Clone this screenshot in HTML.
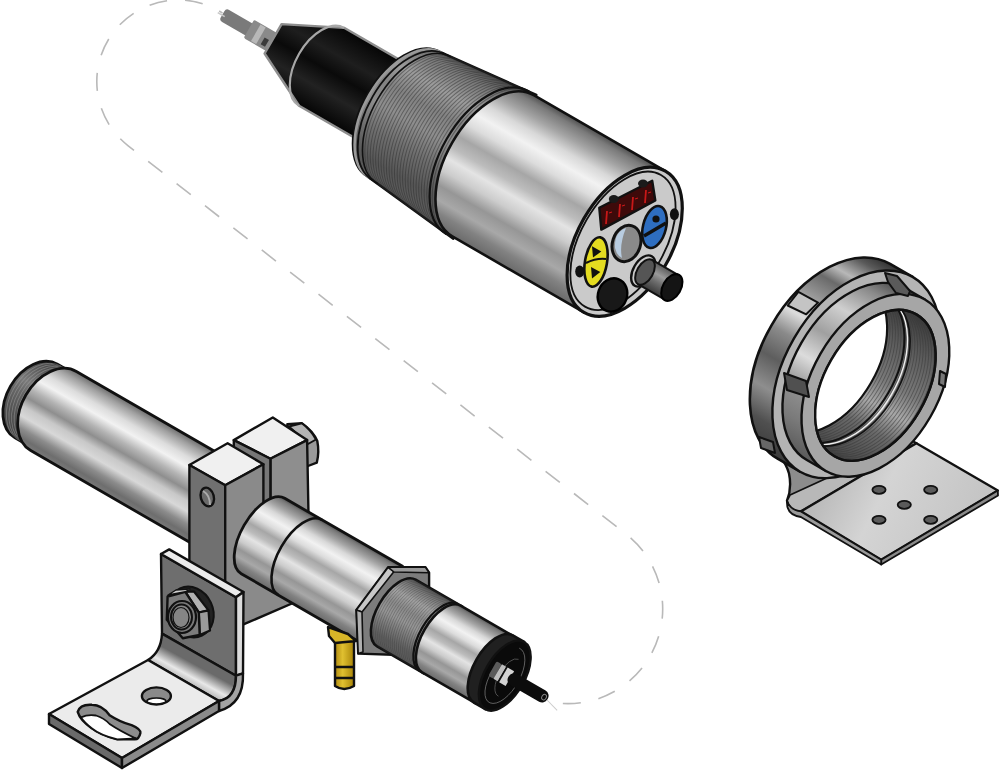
<!DOCTYPE html><html><head><meta charset="utf-8"><style>html,body{margin:0;padding:0;background:#fff;width:1000px;height:770px;overflow:hidden;font-family:"Liberation Sans",sans-serif;}svg{display:block;}</style></head><body>
<svg width="1000" height="770" viewBox="0 0 1000 770">
<defs>
<linearGradient id="silT" gradientUnits="userSpaceOnUse" x1="0" y1="-81.5" x2="0" y2="81.5"><stop offset="0" stop-color="#505050"/><stop offset="0.04" stop-color="#7a7a7a"/><stop offset="0.12" stop-color="#a4a4a4"/><stop offset="0.2" stop-color="#d8d8d8"/><stop offset="0.28" stop-color="#f2f2f2"/><stop offset="0.36" stop-color="#dcdcdc"/><stop offset="0.45" stop-color="#a6a6a6"/><stop offset="0.53" stop-color="#bcbcbc"/><stop offset="0.6" stop-color="#e4e4e4"/><stop offset="0.68" stop-color="#cccccc"/><stop offset="0.77" stop-color="#969696"/><stop offset="0.85" stop-color="#a8a8a8"/><stop offset="0.92" stop-color="#828282"/><stop offset="1" stop-color="#6a6a6a"/></linearGradient>
<linearGradient id="thrT" gradientUnits="userSpaceOnUse" x1="0" y1="-80" x2="0" y2="80"><stop offset="0" stop-color="#4e4e4e"/><stop offset="0.1" stop-color="#767676"/><stop offset="0.25" stop-color="#9c9c9c"/><stop offset="0.38" stop-color="#828282"/><stop offset="0.52" stop-color="#8e8e8e"/><stop offset="0.68" stop-color="#6e6e6e"/><stop offset="0.85" stop-color="#565656"/><stop offset="1" stop-color="#5e5e5e"/></linearGradient>
<linearGradient id="blkT" gradientUnits="userSpaceOnUse" x1="0" y1="-45" x2="0" y2="45"><stop offset="0" stop-color="#060606"/><stop offset="0.3" stop-color="#1e1e1e"/><stop offset="0.5" stop-color="#0a0a0a"/><stop offset="0.72" stop-color="#222"/><stop offset="1" stop-color="#050505"/></linearGradient>
<linearGradient id="silL" gradientUnits="userSpaceOnUse" x1="0" y1="-46" x2="0" y2="46"><stop offset="0" stop-color="#6a6a6a"/><stop offset="0.08" stop-color="#a0a0a0"/><stop offset="0.2" stop-color="#dcdcdc"/><stop offset="0.3" stop-color="#f2f2f2"/><stop offset="0.42" stop-color="#b4b4b4"/><stop offset="0.52" stop-color="#8e8e8e"/><stop offset="0.62" stop-color="#c8c8c8"/><stop offset="0.72" stop-color="#d8d8d8"/><stop offset="0.84" stop-color="#8c8c8c"/><stop offset="0.93" stop-color="#6e6e6e"/><stop offset="1" stop-color="#7a7a7a"/></linearGradient>
<linearGradient id="silB2" gradientUnits="userSpaceOnUse" x1="0" y1="-43.5" x2="0" y2="43.5"><stop offset="0" stop-color="#505050"/><stop offset="0.04" stop-color="#7a7a7a"/><stop offset="0.12" stop-color="#a4a4a4"/><stop offset="0.2" stop-color="#d8d8d8"/><stop offset="0.28" stop-color="#f2f2f2"/><stop offset="0.36" stop-color="#dcdcdc"/><stop offset="0.45" stop-color="#a6a6a6"/><stop offset="0.53" stop-color="#bcbcbc"/><stop offset="0.6" stop-color="#e4e4e4"/><stop offset="0.68" stop-color="#cccccc"/><stop offset="0.77" stop-color="#969696"/><stop offset="0.85" stop-color="#a8a8a8"/><stop offset="0.92" stop-color="#828282"/><stop offset="1" stop-color="#6a6a6a"/></linearGradient>
<linearGradient id="silB3" gradientUnits="userSpaceOnUse" x1="0" y1="-38.5" x2="0" y2="38.5"><stop offset="0" stop-color="#505050"/><stop offset="0.04" stop-color="#7a7a7a"/><stop offset="0.12" stop-color="#a4a4a4"/><stop offset="0.2" stop-color="#d8d8d8"/><stop offset="0.28" stop-color="#f2f2f2"/><stop offset="0.36" stop-color="#dcdcdc"/><stop offset="0.45" stop-color="#a6a6a6"/><stop offset="0.53" stop-color="#bcbcbc"/><stop offset="0.6" stop-color="#e4e4e4"/><stop offset="0.68" stop-color="#cccccc"/><stop offset="0.77" stop-color="#969696"/><stop offset="0.85" stop-color="#a8a8a8"/><stop offset="0.92" stop-color="#828282"/><stop offset="1" stop-color="#6a6a6a"/></linearGradient>
<linearGradient id="thrB" gradientUnits="userSpaceOnUse" x1="0" y1="-38.5" x2="0" y2="38.5"><stop offset="0" stop-color="#555"/><stop offset="0.1" stop-color="#7a7a7a"/><stop offset="0.25" stop-color="#a0a0a0"/><stop offset="0.4" stop-color="#8a8a8a"/><stop offset="0.55" stop-color="#969696"/><stop offset="0.7" stop-color="#7a7a7a"/><stop offset="0.85" stop-color="#606060"/><stop offset="1" stop-color="#5a5a5a"/></linearGradient>
<linearGradient id="thrL" gradientUnits="userSpaceOnUse" x1="0" y1="-42" x2="0" y2="42"><stop offset="0" stop-color="#3a3a3a"/><stop offset="0.15" stop-color="#5a5a5a"/><stop offset="0.35" stop-color="#7a7a7a"/><stop offset="0.5" stop-color="#666"/><stop offset="0.7" stop-color="#555"/><stop offset="1" stop-color="#444"/></linearGradient>
<linearGradient id="bend" gradientUnits="userSpaceOnUse" x1="150" y1="640" x2="138" y2="662"><stop offset="0" stop-color="#6a6a6a"/><stop offset="0.5" stop-color="#e8e8e8"/><stop offset="0.75" stop-color="#c0c0c0"/><stop offset="1" stop-color="#9a9a9a"/></linearGradient>
<linearGradient id="brass" x1="0" y1="0" x2="1" y2="0"><stop offset="0" stop-color="#b08a10"/><stop offset="0.4" stop-color="#e0c030"/><stop offset="1" stop-color="#a88408"/></linearGradient>
<linearGradient id="m12" gradientUnits="userSpaceOnUse" x1="0" y1="-14" x2="0" y2="14"><stop offset="0" stop-color="#5a5a5a"/><stop offset="0.35" stop-color="#9a9a9a"/><stop offset="0.6" stop-color="#6e6e6e"/><stop offset="1" stop-color="#3a3a3a"/></linearGradient>
</defs>
<path d="M 222.55 13.06 A 81.5 81.5 0 0 0 96.8 81.5 A 81.5 81.5 0 0 0 128.2 145.8 L 626.3 534.3 A 94.7 94.7 0 0 1 662.7 609 A 94.7 94.7 0 0 1 545.7 701" fill="none" stroke="#b9b9b9" stroke-width="1.6" stroke-dasharray="18 18" stroke-dashoffset="14"/>
<g transform="translate(624.7 241.8) rotate(30)">
<rect x="-462" y="-3" width="36" height="14" rx="3.5" fill="#7a7a7a"/>
<line x1="-467" y1="5" x2="-459" y2="5" stroke="#c8c8c8" stroke-width="1.6"/>
<rect x="-432" y="-7" width="30" height="21" rx="2" fill="#8a8a8a"/>
<rect x="-424" y="-6" width="6" height="19" fill="#b8b8b8"/>
<rect x="-414" y="3" width="5" height="8" fill="#3a3a3a"/>
<path d="M -406 -17 L -350 -45 L -240 -45 L -240 45 L -350 45 L -406 17 Z" fill="url(#blkT)" stroke="#8e8e8e" stroke-width="2.4" stroke-linejoin="round"/>
<path d="M -350 -45 A 25.96 45 0 0 0 -350 45" fill="none" stroke="#a8a8a8" stroke-width="2.2" />
<path d="M -255 -72 L -150 -83 L -150 83 L -255 72 A 41.54 72 0 0 1 -255 -72 Z" fill="url(#thrT)" stroke="#111" stroke-width="2.5" stroke-linejoin="round" />
<g fill="none" stroke="#2a2a2a" stroke-width="1.0" opacity="0.45"><path d="M -240 -73.57 A 42.45 73.57 0 0 0 -240 73.57"/><path d="M -236.6 -73.93 A 42.66 73.93 0 0 0 -236.6 73.93"/><path d="M -233.2 -74.28 A 42.86 74.28 0 0 0 -233.2 74.28"/><path d="M -229.8 -74.64 A 43.07 74.64 0 0 0 -229.8 74.64"/><path d="M -226.4 -75 A 43.27 75 0 0 0 -226.4 75"/><path d="M -223 -75.35 A 43.48 75.35 0 0 0 -223 75.35"/><path d="M -219.6 -75.71 A 43.68 75.71 0 0 0 -219.6 75.71"/><path d="M -216.2 -76.06 A 43.89 76.06 0 0 0 -216.2 76.06"/><path d="M -212.8 -76.42 A 44.09 76.42 0 0 0 -212.8 76.42"/><path d="M -209.4 -76.78 A 44.3 76.78 0 0 0 -209.4 76.78"/><path d="M -206 -77.13 A 44.51 77.13 0 0 0 -206 77.13"/><path d="M -202.6 -77.49 A 44.71 77.49 0 0 0 -202.6 77.49"/><path d="M -199.2 -77.85 A 44.92 77.85 0 0 0 -199.2 77.85"/><path d="M -195.8 -78.2 A 45.12 78.2 0 0 0 -195.8 78.2"/><path d="M -192.4 -78.56 A 45.33 78.56 0 0 0 -192.4 78.56"/><path d="M -189 -78.91 A 45.53 78.91 0 0 0 -189 78.91"/><path d="M -185.6 -79.27 A 45.74 79.27 0 0 0 -185.6 79.27"/><path d="M -182.2 -79.63 A 45.94 79.63 0 0 0 -182.2 79.63"/><path d="M -178.8 -79.98 A 46.15 79.98 0 0 0 -178.8 79.98"/><path d="M -175.4 -80.34 A 46.36 80.34 0 0 0 -175.4 80.34"/><path d="M -172 -80.7 A 46.56 80.7 0 0 0 -172 80.7"/><path d="M -168.6 -81.05 A 46.77 81.05 0 0 0 -168.6 81.05"/><path d="M -165.2 -81.41 A 46.97 81.41 0 0 0 -165.2 81.41"/><path d="M -161.8 -81.76 A 47.18 81.76 0 0 0 -161.8 81.76"/><path d="M -158.4 -82.12 A 47.38 82.12 0 0 0 -158.4 82.12"/><path d="M -155 -82.48 A 47.59 82.48 0 0 0 -155 82.48"/></g>
<path d="M -253 -72.21 A 41.66 72.21 0 0 0 -253 72.21" fill="none" stroke="#9a9a9a" stroke-width="2.5" />
<path d="M -249 -72.63 A 41.91 72.63 0 0 0 -249 72.63" fill="none" stroke="#111" stroke-width="1.8" />
<path d="M -243 -73.26 A 42.27 73.26 0 0 0 -243 73.26" fill="none" stroke="#111" stroke-width="1.6" />
<path d="M -152 -81.5 L 0 -81.5 L 0 81.5 L -152 81.5 A 47.03 81.5 0 0 1 -152 -81.5 Z" fill="url(#silT)" stroke="#111" stroke-width="2.6" stroke-linejoin="round" />
<path d="M -158 -82.5 A 47.6 82.5 0 0 0 -158 82.5" fill="none" stroke="#111" stroke-width="2.2" />
<ellipse cx="0" cy="0" rx="47" ry="81.5" fill="#cacaca" stroke="#111" stroke-width="3.2"/>
<ellipse cx="-2" cy="0" rx="42" ry="76" fill="none" stroke="#111" stroke-width="1.8"/>
</g>
<g stroke-linejoin="round">
  <path d="M 599.3 207.8 L 652.2 180.8 L 655.3 200.5 L 601.3 229.6 Z" fill="#3e0a0a" stroke="#111" stroke-width="2.4"/>
  <ellipse cx="613.8" cy="199" rx="5" ry="4" fill="#1a1a1a"/>
  <ellipse cx="643" cy="183.5" rx="5" ry="4" fill="#1a1a1a"/>
  <path d="M 606 224 L 607 211 M 619 217 L 620 204 M 632 210 L 633 197 M 645 203 L 646 190" stroke="#c81818" stroke-width="1.8"/>
  <path d="M 609 213 L 612 212 M 622 206 L 625 205 M 635 199 L 638 198 M 648 193 L 651 192" stroke="#c81818" stroke-width="1.2"/>
  <ellipse cx="654.5" cy="227" rx="11.5" ry="21.5" transform="rotate(14 654.5 227)" fill="#2e6ec0" stroke="#111" stroke-width="2.6"/>
  <path d="M 644 236 L 666 223" stroke="#111" stroke-width="3.4"/>
  <circle cx="656" cy="219" r="3.6" fill="#111"/>
  <ellipse cx="626.5" cy="243.5" rx="14" ry="18.5" transform="rotate(18 626.5 243.5)" fill="#8a8a8a" stroke="#111" stroke-width="3"/>
  <path d="M 626 228 Q 614 232 615 248 Q 617 256 622 258 Q 619 245 626 228 Z" fill="#b8cce0"/>
  <ellipse cx="596" cy="262" rx="11" ry="25" transform="rotate(10 596 262)" fill="#e4dc20" stroke="#111" stroke-width="2.6"/>
  <path d="M 592 246.2 L 601.3 251.4 L 593 257.6 Z M 591 267 L 600.3 272.1 L 592 278.4 Z" fill="#111"/>
  <path d="M 586 263 Q 596 258 606 259" fill="none" stroke="#111" stroke-width="2"/>
  <ellipse cx="579.7" cy="271.5" rx="4.5" ry="6" fill="#111"/>
  <ellipse cx="674.4" cy="214.3" rx="4.5" ry="6" fill="#111"/>
  <ellipse cx="612.5" cy="295" rx="14.5" ry="17" transform="rotate(20 612.5 295)" fill="#181818" stroke="#000" stroke-width="2.4"/>
  <g transform="translate(645 272) rotate(30)">
    <ellipse cx="-2" cy="0" rx="10" ry="17" fill="none" stroke="#111" stroke-width="2.4"/>
    <path d="M 0 -14 L 31 -14 L 31 14 L 0 14 Z" fill="url(#m12)" stroke="#111" stroke-width="2"/>
    <ellipse cx="0" cy="0" rx="8" ry="14" fill="#555" stroke="#111" stroke-width="2"/>
    <ellipse cx="31" cy="0" rx="9" ry="14.5" fill="#141414" stroke="#000" stroke-width="2"/>
  </g>
</g>
<g transform="translate(180 484) rotate(30)">
<path d="M -166 -42.5 L -143 -42.5 L -143 42.5 L -166 42.5 A 29.75 42.5 0 0 1 -166 -42.5 Z" fill="url(#thrL)" stroke="#111" stroke-width="2.8" stroke-linejoin="round" />
<g fill="none" stroke="#aaa" stroke-width="0.9" opacity="0.45"><path d="M -162 -42.5 A 29.75 42.5 0 0 0 -162 42.5"/><path d="M -159 -42.5 A 29.75 42.5 0 0 0 -159 42.5"/><path d="M -156 -42.5 A 29.75 42.5 0 0 0 -156 42.5"/><path d="M -153 -42.5 A 29.75 42.5 0 0 0 -153 42.5"/><path d="M -150 -42.5 A 29.75 42.5 0 0 0 -150 42.5"/><path d="M -147 -42.5 A 29.75 42.5 0 0 0 -147 42.5"/></g>
<path d="M -146 -45.7 L 40 -45.7 L 40 45.7 L -146 45.7 A 31.99 45.7 0 0 1 -146 -45.7 Z" fill="url(#silL)" stroke="#111" stroke-width="2.8" stroke-linejoin="round" />
</g>
<g stroke="#111" stroke-width="2.4" stroke-linejoin="round">
<path d="M 287.3 424.1 L 301.8 423.2 Q 313 431 317.3 441 Q 319.5 452 316.8 462.7 L 308 466 L 295 468 Z" fill="#9a9a9a"/>
<path d="M 289 426.5 L 301.8 423.2 Q 311 430 316 439.5 L 308 444 Z" fill="#b4b4b4" stroke-width="2"/>
<path d="M 233.8 440.1 L 272.8 417.5 L 307.1 440.1 L 270.4 458.8 Z" fill="#f0f0f0"/>
<path d="M 270.4 458.8 L 307.1 440.1 L 308.6 520 L 270.4 540 Z" fill="#8e8e8e"/>
<path d="M 233.8 440.1 L 270.4 458.8 L 270.4 540 L 233.8 520 Z" fill="#777"/>
<path d="M 189.4 465 L 227.6 443.2 L 263.4 464.3 L 225.2 485.3 Z" fill="#f0f0f0"/>
<path d="M 189.4 465 L 225.2 485.3 L 225.2 600 L 189.4 580 Z" fill="#707070"/>
<path d="M 225.2 485.3 L 263.4 464.3 L 263.4 530 L 300 540 L 300 600 L 243.4 624.4 L 225.2 614 Z" fill="#8a8a8a"/>
<ellipse cx="207.3" cy="497" rx="6.5" ry="9.5" transform="rotate(-15 207.3 497)" fill="#6a6a6a"/>
<path d="M 203 491 Q 210 495 210 505" fill="none" stroke="#aaa" stroke-width="2"/>
</g>
<g transform="translate(502 674) rotate(30)">
<path d="M -276 -43.5 L -140 -43.5 L -140 43.5 L -276 43.5 A 21.75 43.5 0 0 1 -276 -43.5 Z" fill="url(#silB2)" stroke="#111" stroke-width="2.8" stroke-linejoin="round" />
<path d="M -233 -43.5 A 21.75 43.5 0 0 0 -233 43.5" fill="none" stroke="#111" stroke-width="2.6" />
</g>
<g stroke="#111" stroke-width="2.4" stroke-linejoin="round">
<path d="M 356.4 610 L 388.2 567.3 L 425.5 567.3 L 429.1 572.7 L 429.1 600 L 400 655 L 358.2 653.6 Z" fill="#7c7c7c"/>
<path d="M 356.4 610 L 388.2 567.3 L 394 571.5 L 362 612 Z" fill="#c8c8c8" stroke-width="1.6"/>
<path d="M 356.4 610 L 362 612 L 363 652 L 358.2 653.6 Z" fill="#b0b0b0" stroke-width="1.6"/>
<path d="M 388.2 567.3 L 425.5 567.3 L 429.1 572.7 L 394 572 Z" fill="#9a9a9a" stroke-width="1.6"/>
</g>
<g transform="translate(502 674) rotate(30)">
<path d="M -122 -38.5 L -68 -38.5 L -68 38.5 L -122 38.5 A 19.25 38.5 0 0 1 -122 -38.5 Z" fill="url(#thrB)" stroke="#111" stroke-width="2.6" stroke-linejoin="round" />
<g fill="none" stroke="#333" stroke-width="0.7" opacity="0.4"><path d="M -119 -38.5 A 19.25 38.5 0 0 0 -119 38.5"/><path d="M -116.6 -38.5 A 19.25 38.5 0 0 0 -116.6 38.5"/><path d="M -114.2 -38.5 A 19.25 38.5 0 0 0 -114.2 38.5"/><path d="M -111.8 -38.5 A 19.25 38.5 0 0 0 -111.8 38.5"/><path d="M -109.4 -38.5 A 19.25 38.5 0 0 0 -109.4 38.5"/><path d="M -107 -38.5 A 19.25 38.5 0 0 0 -107 38.5"/><path d="M -104.6 -38.5 A 19.25 38.5 0 0 0 -104.6 38.5"/><path d="M -102.2 -38.5 A 19.25 38.5 0 0 0 -102.2 38.5"/><path d="M -99.8 -38.5 A 19.25 38.5 0 0 0 -99.8 38.5"/><path d="M -97.4 -38.5 A 19.25 38.5 0 0 0 -97.4 38.5"/><path d="M -95 -38.5 A 19.25 38.5 0 0 0 -95 38.5"/><path d="M -92.6 -38.5 A 19.25 38.5 0 0 0 -92.6 38.5"/><path d="M -90.2 -38.5 A 19.25 38.5 0 0 0 -90.2 38.5"/><path d="M -87.8 -38.5 A 19.25 38.5 0 0 0 -87.8 38.5"/><path d="M -85.4 -38.5 A 19.25 38.5 0 0 0 -85.4 38.5"/><path d="M -83 -38.5 A 19.25 38.5 0 0 0 -83 38.5"/><path d="M -80.6 -38.5 A 19.25 38.5 0 0 0 -80.6 38.5"/><path d="M -78.2 -38.5 A 19.25 38.5 0 0 0 -78.2 38.5"/><path d="M -75.8 -38.5 A 19.25 38.5 0 0 0 -75.8 38.5"/><path d="M -73.4 -38.5 A 19.25 38.5 0 0 0 -73.4 38.5"/><path d="M -71 -38.5 A 19.25 38.5 0 0 0 -71 38.5"/></g>
<path d="M -70 -38.5 L -8 -38.5 L -8 38.5 L -70 38.5 A 19.25 38.5 0 0 1 -70 -38.5 Z" fill="url(#silB3)" stroke="#111" stroke-width="2.6" stroke-linejoin="round" />
<path d="M -73 -38.5 A 19.25 38.5 0 0 0 -73 38.5" fill="none" stroke="#111" stroke-width="2.2" />
<path d="M -10 -38.8 L 3.2 -38.8 L 3.2 38.8 L -10 38.8 A 19.4 38.8 0 0 1 -10 -38.8 Z" fill="#202020" stroke="#111" stroke-width="2.6" stroke-linejoin="round" />
<ellipse cx="3.2" cy="0" rx="19.8" ry="38.8" fill="#0a0a0a" stroke="#111" stroke-width="2.4"/>
<path d="M 2 -31 A 15 31 0 1 1 4 31 A 13 27 0 0 1 -10 2" fill="none" stroke="#6a6a6a" stroke-width="0.8"/>
<path d="M 7 -21 A 10 21 0 1 0 8 21" fill="none" stroke="#555" stroke-width="0.8"/>
<rect x="-11" y="-8.5" width="6" height="17" rx="2" fill="#5a5a5a"/>
<rect x="-5" y="-8.5" width="5" height="17" fill="#bdbdbd"/>
<rect x="0" y="-8.5" width="1.6" height="17" fill="#111"/>
<rect x="1.6" y="-8.5" width="7.5" height="17" fill="#d4d4d4"/>
<rect x="7" y="-7.5" width="45" height="13" rx="6" fill="#0c0c0c"/>
<ellipse cx="48" cy="-1" rx="2.2" ry="3" fill="none" stroke="#888" stroke-width="0.9"/>
<line x1="52" y1="0" x2="66" y2="4" stroke="#ccc" stroke-width="1"/>
</g>
<g stroke="#111" stroke-width="2.4" stroke-linejoin="round">
<path d="M 335 641 L 354 641 L 354 686 Q 344 692 335 686 Z" fill="url(#brass)"/>
<path d="M 328 627 L 348 634 L 356 641 L 335 643 L 329 636 Z" fill="#d8b628"/>
<path d="M 334 667 L 355 667 M 334 678 L 355 678" stroke-width="2.6"/>
</g>
<g stroke="#111" stroke-width="2.4" stroke-linejoin="round">
<path d="M 161 554 L 236 597.3 L 236 675.7 L 162 633.6 Z" fill="#6e6e6e"/>
<path d="M 161 554 L 169.2 549.4 L 243.5 592 L 236 597.3 Z" fill="#ececec"/>
<path d="M 236 597.3 L 243.5 592 L 243 673.3 L 236 675.7 Z" fill="#dcdcdc"/>
<path d="M 162 633.6 L 236 675.7 Q 236 698 219 701 L 148 660 Q 161 652 162 633.6 Z" fill="url(#bend)"/>
<path d="M 243 673.3 Q 244 704 219 711 L 219 701 Q 236 698 236 675.7 Z" fill="#a4a4a4"/>
<path d="M 49 714 L 148 660 L 219 701 L 122 758 Z" fill="#ebebeb"/>
<path d="M 49 714 L 122 758 L 122 768 L 49 724 Z" fill="#6a6a6a"/>
<path d="M 122 758 L 219 701 L 219 711 L 122 768 Z" fill="#8a8a8a"/>
<ellipse cx="156.4" cy="696" rx="14.5" ry="8.6" fill="#8a8a8a"/>
<ellipse cx="156.4" cy="701" rx="9.5" ry="3" fill="#fff" stroke-width="1.6"/>
<path d="M 77.7 711.9 Q 80 704 92 704.8 Q 102 705 109.6 715.2 Q 120 722 131.6 725.1 Q 141 729 140.4 733 Q 139 739.4 134.9 739.4 L 117.3 739.4 Q 100 735 92 728.4 Q 80 720 77.7 711.9 Z" fill="#8c8c8c"/>
<path d="M 81 717.4 Q 88 714 96 715.5 Q 104 718 109.6 724 Q 120 731 136 738.5 L 117.3 739.4 Q 100 735 92 728.4 Q 84 722 81 717.4 Z" fill="#fff" stroke-width="1.8"/>
<ellipse cx="191" cy="612" rx="22" ry="26" transform="rotate(-25 191 612)" fill="#222" stroke-width="2"/>
<path d="M 185.3 591.8 L 194 591.5 L 208.5 610.4 L 198.8 612.5 Z" fill="#b2b2b2" stroke-width="2.2"/>
<path d="M 198.8 612.5 L 208.5 610.4 L 210 630.6 L 199.7 634.9 Z" fill="#9a9a9a" stroke-width="2.2"/>
<path d="M 167.6 596.5 L 185.3 591.8 L 198.8 612.5 L 199.7 634.9 L 182.8 638.2 L 166.8 619.7 Z" fill="#7c7c7c" stroke-width="2.4"/>
<path d="M 168 595 L 176 590 L 190 589 L 185.3 591.8 Z" fill="#cfcfcf" stroke-width="1.4"/>
<ellipse cx="182" cy="617" rx="14" ry="16" fill="#7a7a7a" stroke-width="2.2"/>
<ellipse cx="181.5" cy="617" rx="10.5" ry="12.5" fill="#888" stroke-width="2"/>
<ellipse cx="181" cy="617.5" rx="8" ry="10" fill="#858585" stroke-width="1.2"/>
</g>
<defs>
<linearGradient id="nutR" gradientUnits="userSpaceOnUse" x1="0" y1="-114" x2="0" y2="114"><stop offset="0" stop-color="#2e2e2e"/><stop offset="0.06" stop-color="#5a5a5a"/><stop offset="0.14" stop-color="#b8b8b8"/><stop offset="0.2" stop-color="#6a6a6a"/><stop offset="0.3" stop-color="#9a9a9a"/><stop offset="0.4" stop-color="#dcdcdc"/><stop offset="0.5" stop-color="#8a8a8a"/><stop offset="0.62" stop-color="#5e5e5e"/><stop offset="0.75" stop-color="#8e8e8e"/><stop offset="0.88" stop-color="#505050"/><stop offset="1" stop-color="#3a3a3a"/></linearGradient>
<linearGradient id="stepR" gradientUnits="userSpaceOnUse" x1="0" y1="-99" x2="0" y2="99"><stop offset="0" stop-color="#4a4a4a"/><stop offset="0.1" stop-color="#8a8a8a"/><stop offset="0.25" stop-color="#cfcfcf"/><stop offset="0.4" stop-color="#a0a0a0"/><stop offset="0.55" stop-color="#dcdcdc"/><stop offset="0.7" stop-color="#929292"/><stop offset="0.85" stop-color="#7a7a7a"/><stop offset="1" stop-color="#5a5a5a"/></linearGradient>
<linearGradient id="boreR" gradientUnits="userSpaceOnUse" x1="0" y1="-82" x2="0" y2="82"><stop offset="0" stop-color="#3a3a3a"/><stop offset="0.2" stop-color="#5a5a5a"/><stop offset="0.45" stop-color="#7a7a7a"/><stop offset="0.6" stop-color="#a8a8a8"/><stop offset="0.75" stop-color="#6a6a6a"/><stop offset="1" stop-color="#454545"/></linearGradient>
<linearGradient id="footR" x1="0" y1="0" x2="1" y2="0.3"><stop offset="0" stop-color="#a8a8a8"/><stop offset="0.5" stop-color="#d4d4d4"/><stop offset="1" stop-color="#c4c4c4"/></linearGradient>
<clipPath id="boreclip"><ellipse cx="0" cy="0" rx="51" ry="81.9"/></clipPath>
</defs>
<g stroke="#111" stroke-width="2.4" stroke-linejoin="round">
<path d="M 761.7 440.4 Q 784 455 789 473.5 Q 792 488 787 500.8 L 802.6 514.4 L 916.4 443.2 L 880 430 L 800 440 Z" fill="#8c8c8c"/>
<path d="M 787 500.8 Q 790 512 800.9 511.4 L 916.4 443.2 L 910 440 L 790 495 Z" fill="#b8b8b8" stroke-width="1.8"/>
<path d="M 800.9 511.4 L 916.4 443.2 L 997.8 490.5 L 881.2 559.8 Z" fill="url(#footR)"/>
<path d="M 881.2 559.8 L 997.8 490.5 L 998 495.5 L 881.2 564.5 Z" fill="#8a8a8a" stroke-width="1.8"/>
<path d="M 787 500.8 Q 786 515 800.9 517 L 881.2 564.5 L 881.2 559.8 L 800.9 511.4 Q 790 510 787 500.8 Z" fill="#9a9a9a" stroke-width="1.8"/>
</g>
<ellipse cx="879" cy="489.8" rx="6.6" ry="4" fill="#5a5a5a" stroke="#111" stroke-width="1.8"/>
<ellipse cx="930.7" cy="489.8" rx="6.6" ry="4" fill="#5a5a5a" stroke="#111" stroke-width="1.8"/>
<ellipse cx="904.3" cy="504.8" rx="6.6" ry="4" fill="#5a5a5a" stroke="#111" stroke-width="1.8"/>
<ellipse cx="879" cy="519.8" rx="6.6" ry="4" fill="#5a5a5a" stroke="#111" stroke-width="1.8"/>
<ellipse cx="930.7" cy="519.8" rx="6.6" ry="4" fill="#5a5a5a" stroke="#111" stroke-width="1.8"/>
<g transform="translate(875.4 385.3) rotate(30)">
<path d="M -48 -112.5 L -22 -112.5 L -22 112.5 L -48 112.5 A 72 112.5 0 0 1 -48 -112.5 Z" fill="url(#nutR)" stroke="#111" stroke-width="2.6" stroke-linejoin="round" />
<ellipse cx="-22" cy="0" rx="72" ry="112.5" fill="#b4b4b4" stroke="#111" stroke-width="2.4"/>
<path d="M -22 -99 L 0 -99 L 0 99 L -22 99 A 63.36 99 0 0 1 -22 -99 Z" fill="url(#stepR)" stroke="#111" stroke-width="2.4" stroke-linejoin="round" />
<ellipse cx="0" cy="0" rx="63.36" ry="99" fill="#a6a6a6" stroke="#111" stroke-width="2.4"/>
<ellipse cx="0" cy="0" rx="51" ry="81.9" fill="url(#boreR)" stroke="#111" stroke-width="2.4"/>
<g clip-path="url(#boreclip)">
<g fill="none" stroke="#3a3a3a" stroke-width="0.9" opacity="0.55">
<path d="M -56 -81.9 A 51 81.9 0 0 1 -56 81.9"/>
<path d="M -52.8 -81.9 A 51 81.9 0 0 1 -52.8 81.9"/>
<path d="M -49.6 -81.9 A 51 81.9 0 0 1 -49.6 81.9"/>
<path d="M -46.4 -81.9 A 51 81.9 0 0 1 -46.4 81.9"/>
<path d="M -43.2 -81.9 A 51 81.9 0 0 1 -43.2 81.9"/>
<path d="M -40 -81.9 A 51 81.9 0 0 1 -40 81.9"/>
<path d="M -36.8 -81.9 A 51 81.9 0 0 1 -36.8 81.9"/>
<path d="M -33.6 -81.9 A 51 81.9 0 0 1 -33.6 81.9"/>
<path d="M -30.4 -81.9 A 51 81.9 0 0 1 -30.4 81.9"/>
<path d="M -27.2 -81.9 A 51 81.9 0 0 1 -27.2 81.9"/>
<path d="M -24 -81.9 A 51 81.9 0 0 1 -24 81.9"/>
<path d="M -20.8 -81.9 A 51 81.9 0 0 1 -20.8 81.9"/>
<path d="M -17.6 -81.9 A 51 81.9 0 0 1 -17.6 81.9"/>
<path d="M -14.4 -81.9 A 51 81.9 0 0 1 -14.4 81.9"/>
<path d="M -11.2 -81.9 A 51 81.9 0 0 1 -11.2 81.9"/>
<path d="M -8 -81.9 A 51 81.9 0 0 1 -8 81.9"/>
<path d="M -4.8 -81.9 A 51 81.9 0 0 1 -4.8 81.9"/>
<path d="M -1.6 -81.9 A 51 81.9 0 0 1 -1.6 81.9"/>
</g>
<path d="M -36 -81.9 A 51 81.9 0 0 1 -36 81.9" fill="none" stroke="#111" stroke-width="2"/>
<path d="M -32.5 -81.9 A 51 81.9 0 0 1 -32.5 81.9" fill="none" stroke="#eee" stroke-width="1.4"/>
<path d="M -29.5 -81.9 A 51 81.9 0 0 1 -29.5 81.9" fill="none" stroke="#111" stroke-width="1.6"/>
<ellipse cx="-56" cy="0" rx="51" ry="81.9" fill="#fff" stroke="#111" stroke-width="2.2"/>
</g>
<ellipse cx="0" cy="0" rx="51" ry="81.9" fill="none" stroke="#111" stroke-width="2.4"/>
</g>
<g stroke="#111" stroke-width="2" stroke-linejoin="round">
<path d="M 885 273 L 897 276 L 910 291 L 908 296 L 896 293 L 888 282 Z" fill="#5a5a5a"/>
<path d="M 798.4 291.9 L 818 302.6 L 806.2 314.3 L 787.7 305.5 Z" fill="#c4c4c4"/>
<path d="M 784 373 L 806 381 L 809 397 L 787 390 Z" fill="#505050"/>
<path d="M 759 437 L 773 442 L 775 453 L 761 448 Z" fill="#666"/>
<path d="M 940 371 L 946 374 L 945 387 L 939 384 Z" fill="#777"/>
</g>
</svg></body></html>
